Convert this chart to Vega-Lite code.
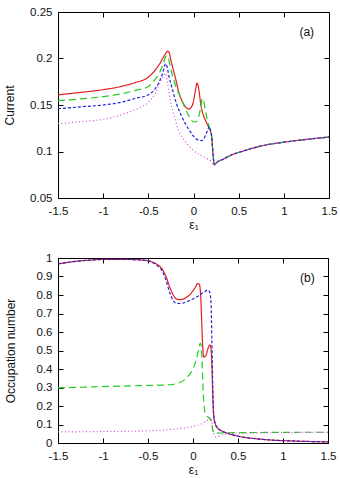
{
  "$schema": "https://vega.github.io/schema/vega-lite/v6.json",
  "padding": {"top": 5, "left": 3, "right": 8, "bottom": 0},
  "spacing": 20,
  "config": {
    "view": {"stroke": "#000", "strokeWidth": 1},
    "font": "Liberation Sans",
    "axis": {"grid": false, "domain": false, "tickColor": "#000", "tickSize": -5, "tickWidth": 1, "labelFlush": false, "labelOverlap": false, "labelFont": "Liberation Sans", "labelFontSize": 11.5, "labelColor": "#111", "titleFont": "Liberation Sans", "titleFontSize": 12, "titleFontWeight": "normal", "titleColor": "#111"},
    "axisX": {"labelPadding": 12, "titlePadding": 3},
    "axisY": {"labelPadding": 11}
  },
  "datasets": {
    "cur": [
      {"x":-1.5,"y":0.161,"s":"a"},{"x":-1.25,"y":0.1635,"s":"a"},{"x":-1.0,"y":0.1665,"s":"a"},{"x":-0.8,"y":0.170,"s":"a"},{"x":-0.65,"y":0.174,"s":"a"},{"x":-0.5,"y":0.180,"s":"a"},{"x":-0.42,"y":0.188,"s":"a"},{"x":-0.37,"y":0.195,"s":"a"},{"x":-0.33,"y":0.202,"s":"a"},{"x":-0.3,"y":0.2065,"s":"a"},{"x":-0.285,"y":0.208,"s":"a"},{"x":-0.27,"y":0.2065,"s":"a"},{"x":-0.25,"y":0.198,"s":"a"},{"x":-0.2,"y":0.179,"s":"a"},{"x":-0.16,"y":0.163,"s":"a"},{"x":-0.125,"y":0.154,"s":"a"},{"x":-0.08,"y":0.147,"s":"a"},{"x":-0.055,"y":0.1455,"s":"a"},{"x":-0.03,"y":0.147,"s":"a"},{"x":0.0,"y":0.154,"s":"a"},{"x":0.02,"y":0.165,"s":"a"},{"x":0.04,"y":0.1735,"s":"a"},{"x":0.06,"y":0.166,"s":"a"},{"x":0.08,"y":0.151,"s":"a"},{"x":0.1,"y":0.142,"s":"a"},{"x":0.13,"y":0.134,"s":"a"},{"x":0.16,"y":0.128,"s":"a"},{"x":0.19,"y":0.121,"s":"a"},{"x":0.2,"y":0.117,"s":"a"},{"x":0.21,"y":0.105,"s":"a"},{"x":0.22,"y":0.093,"s":"a"},{"x":0.23,"y":0.0857,"s":"a"},{"x":0.26,"y":0.0885,"s":"a"},{"x":0.32,"y":0.0913,"s":"a"},{"x":0.43,"y":0.0967,"s":"a"},{"x":0.55,"y":0.1005,"s":"a"},{"x":0.66,"y":0.1038,"s":"a"},{"x":0.8,"y":0.107,"s":"a"},{"x":1.0,"y":0.110,"s":"a"},{"x":1.25,"y":0.113,"s":"a"},{"x":1.5,"y":0.1155,"s":"a"},
      {"x":-1.5,"y":0.1547,"s":"b"},{"x":-1.25,"y":0.1565,"s":"b"},{"x":-1.0,"y":0.159,"s":"b"},{"x":-0.8,"y":0.162,"s":"b"},{"x":-0.65,"y":0.1655,"s":"b"},{"x":-0.5,"y":0.170,"s":"b"},{"x":-0.42,"y":0.178,"s":"b"},{"x":-0.38,"y":0.184,"s":"b"},{"x":-0.34,"y":0.193,"s":"b"},{"x":-0.31,"y":0.2015,"s":"b"},{"x":-0.295,"y":0.203,"s":"b"},{"x":-0.28,"y":0.201,"s":"b"},{"x":-0.26,"y":0.193,"s":"b"},{"x":-0.236,"y":0.1827,"s":"b"},{"x":-0.2,"y":0.171,"s":"b"},{"x":-0.14,"y":0.1575,"s":"b"},{"x":-0.1,"y":0.148,"s":"b"},{"x":-0.05,"y":0.138,"s":"b"},{"x":0.0,"y":0.1317,"s":"b"},{"x":0.03,"y":0.132,"s":"b"},{"x":0.06,"y":0.138,"s":"b"},{"x":0.08,"y":0.148,"s":"b"},{"x":0.098,"y":0.157,"s":"b"},{"x":0.11,"y":0.155,"s":"b"},{"x":0.13,"y":0.145,"s":"b"},{"x":0.15,"y":0.135,"s":"b"},{"x":0.173,"y":0.127,"s":"b"},{"x":0.19,"y":0.121,"s":"b"},{"x":0.2,"y":0.117,"s":"b"},{"x":0.21,"y":0.105,"s":"b"},{"x":0.22,"y":0.093,"s":"b"},{"x":0.23,"y":0.0857,"s":"b"},{"x":0.26,"y":0.0885,"s":"b"},{"x":0.32,"y":0.0913,"s":"b"},{"x":0.43,"y":0.0967,"s":"b"},{"x":0.55,"y":0.1005,"s":"b"},{"x":0.66,"y":0.1038,"s":"b"},{"x":0.8,"y":0.107,"s":"b"},{"x":1.0,"y":0.110,"s":"b"},{"x":1.25,"y":0.113,"s":"b"},{"x":1.5,"y":0.1155,"s":"b"},
      {"x":-1.5,"y":0.146,"s":"c"},{"x":-1.25,"y":0.148,"s":"c"},{"x":-1.0,"y":0.150,"s":"c"},{"x":-0.8,"y":0.153,"s":"c"},{"x":-0.65,"y":0.157,"s":"c"},{"x":-0.5,"y":0.161,"s":"c"},{"x":-0.42,"y":0.168,"s":"c"},{"x":-0.385,"y":0.1737,"s":"c"},{"x":-0.35,"y":0.182,"s":"c"},{"x":-0.325,"y":0.19,"s":"c"},{"x":-0.31,"y":0.1945,"s":"c"},{"x":-0.295,"y":0.192,"s":"c"},{"x":-0.27,"y":0.18,"s":"c"},{"x":-0.236,"y":0.168,"s":"c"},{"x":-0.19,"y":0.152,"s":"c"},{"x":-0.14,"y":0.1397,"s":"c"},{"x":-0.05,"y":0.1235,"s":"c"},{"x":0.042,"y":0.1128,"s":"c"},{"x":0.09,"y":0.1117,"s":"c"},{"x":0.136,"y":0.118,"s":"c"},{"x":0.16,"y":0.124,"s":"c"},{"x":0.173,"y":0.127,"s":"c"},{"x":0.185,"y":0.124,"s":"c"},{"x":0.2,"y":0.117,"s":"c"},{"x":0.21,"y":0.105,"s":"c"},{"x":0.22,"y":0.093,"s":"c"},{"x":0.23,"y":0.0857,"s":"c"},{"x":0.26,"y":0.0885,"s":"c"},{"x":0.32,"y":0.0913,"s":"c"},{"x":0.43,"y":0.0967,"s":"c"},{"x":0.55,"y":0.1005,"s":"c"},{"x":0.66,"y":0.1038,"s":"c"},{"x":0.8,"y":0.107,"s":"c"},{"x":1.0,"y":0.110,"s":"c"},{"x":1.25,"y":0.113,"s":"c"},{"x":1.5,"y":0.1155,"s":"c"},
      {"x":-1.5,"y":0.130,"s":"d"},{"x":-1.25,"y":0.132,"s":"d"},{"x":-0.98,"y":0.135,"s":"d"},{"x":-0.75,"y":0.141,"s":"d"},{"x":-0.6,"y":0.147,"s":"d"},{"x":-0.5,"y":0.153,"s":"d"},{"x":-0.42,"y":0.163,"s":"d"},{"x":-0.348,"y":0.179,"s":"d"},{"x":-0.325,"y":0.1825,"s":"d"},{"x":-0.31,"y":0.184,"s":"d"},{"x":-0.29,"y":0.175,"s":"d"},{"x":-0.27,"y":0.163,"s":"d"},{"x":-0.254,"y":0.154,"s":"d"},{"x":-0.21,"y":0.137,"s":"d"},{"x":-0.162,"y":0.122,"s":"d"},{"x":-0.1,"y":0.112,"s":"d"},{"x":-0.013,"y":0.102,"s":"d"},{"x":0.06,"y":0.097,"s":"d"},{"x":0.136,"y":0.093,"s":"d"},{"x":0.2,"y":0.089,"s":"d"},{"x":0.23,"y":0.0857,"s":"d"},{"x":0.26,"y":0.0885,"s":"d"},{"x":0.32,"y":0.0913,"s":"d"},{"x":0.43,"y":0.0967,"s":"d"},{"x":0.55,"y":0.1005,"s":"d"},{"x":0.66,"y":0.1038,"s":"d"},{"x":0.8,"y":0.107,"s":"d"},{"x":1.0,"y":0.110,"s":"d"},{"x":1.25,"y":0.113,"s":"d"},{"x":1.5,"y":0.1155,"s":"d"}
    ],
    "occ": [
      {"x":-1.5,"y":0.968,"s":"a"},{"x":-1.3,"y":0.982,"s":"a"},{"x":-1.1,"y":0.99,"s":"a"},{"x":-0.9,"y":0.993,"s":"a"},{"x":-0.7,"y":0.992,"s":"a"},{"x":-0.55,"y":0.988,"s":"a"},{"x":-0.45,"y":0.978,"s":"a"},{"x":-0.4,"y":0.965,"s":"a"},{"x":-0.35,"y":0.945,"s":"a"},{"x":-0.3,"y":0.9,"s":"a"},{"x":-0.26,"y":0.845,"s":"a"},{"x":-0.22,"y":0.8,"s":"a"},{"x":-0.18,"y":0.778,"s":"a"},{"x":-0.14,"y":0.775,"s":"a"},{"x":-0.08,"y":0.785,"s":"a"},{"x":-0.02,"y":0.81,"s":"a"},{"x":0.03,"y":0.845,"s":"a"},{"x":0.05,"y":0.862,"s":"a"},{"x":0.07,"y":0.858,"s":"a"},{"x":0.085,"y":0.8,"s":"a"},{"x":0.095,"y":0.68,"s":"a"},{"x":0.105,"y":0.55,"s":"a"},{"x":0.12,"y":0.465,"s":"a"},{"x":0.14,"y":0.47,"s":"a"},{"x":0.17,"y":0.515,"s":"a"},{"x":0.19,"y":0.53,"s":"a"},{"x":0.2,"y":0.51,"s":"a"},{"x":0.21,"y":0.42,"s":"a"},{"x":0.22,"y":0.25,"s":"a"},{"x":0.23,"y":0.15,"s":"a"},{"x":0.25,"y":0.1,"s":"a"},{"x":0.28,"y":0.078,"s":"a"},{"x":0.32,"y":0.065,"s":"a"},{"x":0.4,"y":0.05,"s":"a"},{"x":0.5,"y":0.037,"s":"a"},{"x":0.7,"y":0.023,"s":"a"},{"x":0.9,"y":0.015,"s":"a"},{"x":1.1,"y":0.011,"s":"a"},{"x":1.3,"y":0.008,"s":"a"},{"x":1.5,"y":0.006,"s":"a"},
      {"x":-1.5,"y":0.298,"s":"b"},{"x":-1.2,"y":0.302,"s":"b"},{"x":-0.9,"y":0.306,"s":"b"},{"x":-0.6,"y":0.31,"s":"b"},{"x":-0.4,"y":0.312,"s":"b"},{"x":-0.25,"y":0.315,"s":"b"},{"x":-0.18,"y":0.322,"s":"b"},{"x":-0.1,"y":0.34,"s":"b"},{"x":-0.04,"y":0.37,"s":"b"},{"x":0.0,"y":0.4,"s":"b"},{"x":0.03,"y":0.44,"s":"b"},{"x":0.06,"y":0.5,"s":"b"},{"x":0.08,"y":0.54,"s":"b"},{"x":0.09,"y":0.53,"s":"b"},{"x":0.1,"y":0.45,"s":"b"},{"x":0.11,"y":0.32,"s":"b"},{"x":0.12,"y":0.22,"s":"b"},{"x":0.13,"y":0.17,"s":"b"},{"x":0.15,"y":0.148,"s":"b"},{"x":0.18,"y":0.135,"s":"b"},{"x":0.2,"y":0.12,"s":"b"},{"x":0.21,"y":0.1,"s":"b"},{"x":0.22,"y":0.07,"s":"b"},{"x":0.23,"y":0.056,"s":"b"},{"x":0.26,"y":0.053,"s":"b"},{"x":0.35,"y":0.055,"s":"b"},{"x":0.5,"y":0.056,"s":"b"},{"x":0.8,"y":0.057,"s":"b"},{"x":1.2,"y":0.058,"s":"b"},{"x":1.5,"y":0.058,"s":"b"},
      {"x":-1.5,"y":0.968,"s":"c"},{"x":-1.3,"y":0.982,"s":"c"},{"x":-1.1,"y":0.99,"s":"c"},{"x":-0.9,"y":0.993,"s":"c"},{"x":-0.7,"y":0.992,"s":"c"},{"x":-0.55,"y":0.988,"s":"c"},{"x":-0.45,"y":0.976,"s":"c"},{"x":-0.4,"y":0.96,"s":"c"},{"x":-0.35,"y":0.935,"s":"c"},{"x":-0.3,"y":0.88,"s":"c"},{"x":-0.26,"y":0.815,"s":"c"},{"x":-0.22,"y":0.77,"s":"c"},{"x":-0.18,"y":0.755,"s":"c"},{"x":-0.14,"y":0.754,"s":"c"},{"x":-0.08,"y":0.762,"s":"c"},{"x":0.0,"y":0.778,"s":"c"},{"x":0.06,"y":0.795,"s":"c"},{"x":0.12,"y":0.815,"s":"c"},{"x":0.165,"y":0.827,"s":"c"},{"x":0.185,"y":0.815,"s":"c"},{"x":0.2,"y":0.76,"s":"c"},{"x":0.21,"y":0.55,"s":"c"},{"x":0.22,"y":0.3,"s":"c"},{"x":0.23,"y":0.15,"s":"c"},{"x":0.25,"y":0.1,"s":"c"},{"x":0.28,"y":0.078,"s":"c"},{"x":0.32,"y":0.065,"s":"c"},{"x":0.4,"y":0.05,"s":"c"},{"x":0.5,"y":0.037,"s":"c"},{"x":0.7,"y":0.023,"s":"c"},{"x":0.9,"y":0.015,"s":"c"},{"x":1.1,"y":0.011,"s":"c"},{"x":1.3,"y":0.008,"s":"c"},{"x":1.5,"y":0.006,"s":"c"},
      {"x":-1.5,"y":0.06,"s":"d"},{"x":-1.0,"y":0.062,"s":"d"},{"x":-0.5,"y":0.066,"s":"d"},{"x":-0.3,"y":0.071,"s":"d"},{"x":-0.15,"y":0.078,"s":"d"},{"x":0.0,"y":0.09,"s":"d"},{"x":0.1,"y":0.105,"s":"d"},{"x":0.15,"y":0.12,"s":"d"},{"x":0.185,"y":0.135,"s":"d"},{"x":0.2,"y":0.138,"s":"d"},{"x":0.21,"y":0.12,"s":"d"},{"x":0.22,"y":0.08,"s":"d"},{"x":0.24,"y":0.04,"s":"d"},{"x":0.26,"y":0.033,"s":"d"},{"x":0.3,"y":0.04,"s":"d"},{"x":0.35,"y":0.048,"s":"d"},{"x":0.5,"y":0.053,"s":"d"},{"x":1.0,"y":0.056,"s":"d"},{"x":1.5,"y":0.058,"s":"d"}
    ]
  },
  "vconcat": [
    {
      "width": 271,
      "height": 186,
      "layer": [
        {
          "data": {"name": "cur"},
          "mark": {"type": "line", "strokeWidth": 1.2, "interpolate": "monotone"},
          "encoding": {
            "x": {"field": "x", "type": "quantitative", "scale": {"domain": [-1.5, 1.5], "nice": false, "zero": false},
                  "axis": {"orient": "bottom", "values": [-1.5, -1, -0.5, 0, 0.5, 1, 1.5], "title": "ε₁", "labelExpr": "(datum.value < 0 ? '-' : '') + format(abs(datum.value), '~g')"}},
            "y": {"field": "y", "type": "quantitative", "scale": {"domain": [0.05, 0.25], "nice": false, "zero": false},
                  "axis": {"orient": "left", "values": [0.05, 0.1, 0.15, 0.2, 0.25], "title": "Current", "titlePadding": 13, "labelExpr": "format(datum.value, '~g')"}},
            "color": {"field": "s", "type": "nominal", "legend": null, "scale": {"domain": ["a", "b", "c", "d"], "range": ["#e41e1e", "#22cc22", "#2222dd", "#dd44dd"]}},
            "strokeDash": {"field": "s", "type": "nominal", "legend": null, "scale": {"domain": ["a", "b", "c", "d"], "range": [[1, 0], [7, 4], [3, 2], [1, 2.5]]}}
          }
        },
        {
          "data": {"values": [{"x": 1.254, "y": 0.228, "t": "(a)"}]},
          "mark": {"type": "text", "fontSize": 12, "font": "Liberation Sans", "color": "#111"},
          "encoding": {
            "x": {"field": "x", "type": "quantitative", "axis": {"orient": "top", "labels": false, "title": null, "values": [-1.5, -1, -0.5, 0, 0.5, 1, 1.5]}},
            "y": {"field": "y", "type": "quantitative", "axis": {"orient": "right", "labels": false, "title": null, "values": [0.05, 0.1, 0.15, 0.2, 0.25]}},
            "text": {"field": "t"}
          }
        }
      ],
      "resolve": {"axis": {"x": "independent", "y": "independent"}}
    },
    {
      "width": 270,
      "height": 185,
      "layer": [
        {
          "data": {"name": "occ"},
          "mark": {"type": "line", "strokeWidth": 1.2, "interpolate": "monotone"},
          "encoding": {
            "x": {"field": "x", "type": "quantitative", "scale": {"domain": [-1.5, 1.5], "nice": false, "zero": false},
                  "axis": {"orient": "bottom", "values": [-1.5, -1, -0.5, 0, 0.5, 1, 1.5], "title": "ε₁", "labelExpr": "(datum.value < 0 ? '-' : '') + format(abs(datum.value), '~g')"}},
            "y": {"field": "y", "type": "quantitative", "scale": {"domain": [0, 1], "nice": false, "zero": false},
                  "axis": {"orient": "left", "values": [0, 0.1, 0.2, 0.3, 0.4, 0.5, 0.6, 0.7, 0.8, 0.9, 1], "title": "Occupation number", "titlePadding": 19, "labelExpr": "format(datum.value, '~g')"}},
            "color": {"field": "s", "type": "nominal", "legend": null, "scale": {"domain": ["a", "b", "c", "d"], "range": ["#e41e1e", "#22cc22", "#2222dd", "#dd44dd"]}},
            "strokeDash": {"field": "s", "type": "nominal", "legend": null, "scale": {"domain": ["a", "b", "c", "d"], "range": [[1, 0], [7, 4], [3, 2], [1, 2.5]]}}
          }
        },
        {
          "data": {"values": [{"x": 1.27, "y": 0.894, "t": "(b)"}]},
          "mark": {"type": "text", "fontSize": 12, "font": "Liberation Sans", "color": "#111"},
          "encoding": {
            "x": {"field": "x", "type": "quantitative", "axis": {"orient": "top", "labels": false, "title": null, "values": [-1.5, -1, -0.5, 0, 0.5, 1, 1.5]}},
            "y": {"field": "y", "type": "quantitative", "axis": {"orient": "right", "labels": false, "title": null, "values": [0, 0.1, 0.2, 0.3, 0.4, 0.5, 0.6, 0.7, 0.8, 0.9, 1]}},
            "text": {"field": "t"}
          }
        }
      ],
      "resolve": {"axis": {"x": "independent", "y": "independent"}}
    }
  ]
}
